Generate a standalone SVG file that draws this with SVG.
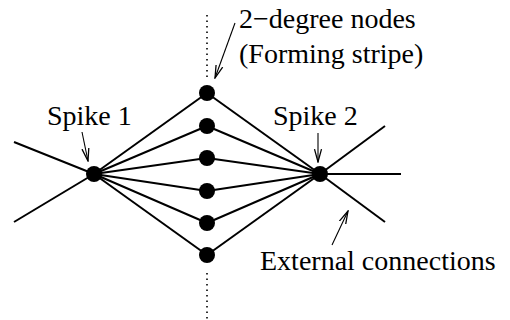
<svg xmlns="http://www.w3.org/2000/svg" width="510" height="320" viewBox="0 0 510 320">
<style>
.e{stroke:#000;stroke-width:2;fill:none}
.d{stroke:#000;stroke-width:1.6;stroke-dasharray:1.6 3.9;fill:none}
.a{stroke:#000;stroke-width:1.1;fill:none;marker-end:url(#ah)}
.n{fill:#000}
.t{font-family:'Liberation Serif','Times New Roman',serif;font-size:28px;fill:#000}
</style>
<defs>
<marker id="ah" markerUnits="userSpaceOnUse" markerWidth="14" markerHeight="10" refX="11" refY="4" orient="auto" viewBox="0 0 12 8">
<path d="M0,1 L11,4 L0,7" fill="none" stroke="#000" stroke-width="1.1"/>
</marker>
</defs>
<g id="connectors">
<line class="d" x1="207" y1="15" x2="207" y2="78"/>
<line class="d" x1="207" y1="273" x2="207" y2="320"/>
<line class="e" x1="14" y1="142" x2="94" y2="174"/>
<line class="e" x1="14" y1="222" x2="94" y2="174"/>
<line class="e" x1="385" y1="126" x2="320" y2="174"/>
<line class="e" x1="401" y1="174" x2="320" y2="174"/>
<line class="e" x1="385" y1="222" x2="320" y2="174"/>
<line class="e" x1="94" y1="174" x2="207" y2="93"/>
<line class="e" x1="94" y1="174" x2="207" y2="126"/>
<line class="e" x1="94" y1="174" x2="207" y2="158"/>
<line class="e" x1="94" y1="174" x2="207" y2="191"/>
<line class="e" x1="94" y1="174" x2="207" y2="223"/>
<line class="e" x1="94" y1="174" x2="207" y2="255"/>
<line class="e" x1="320" y1="174" x2="207" y2="93"/>
<line class="e" x1="320" y1="174" x2="207" y2="126"/>
<line class="e" x1="320" y1="174" x2="207" y2="158"/>
<line class="e" x1="320" y1="174" x2="207" y2="191"/>
<line class="e" x1="320" y1="174" x2="207" y2="223"/>
<line class="e" x1="320" y1="174" x2="207" y2="255"/>
<line class="a" x1="235" y1="23" x2="215" y2="78"/>
<line class="a" x1="82" y1="132" x2="88" y2="161"/>
<line class="a" x1="318" y1="133" x2="318" y2="162"/>
<line class="a" x1="332" y1="245" x2="348" y2="211"/>
</g>
<g id="spike1"><circle class="n" cx="94" cy="174" r="8"/><text class="t" x="47" y="125">Spike 1</text></g>
<g id="spike2"><circle class="n" cx="320" cy="174" r="8"/><text class="t" x="273" y="125">Spike 2</text></g>
<g id="m1"><circle class="n" cx="207" cy="93" r="8"/></g>
<g id="m2"><circle class="n" cx="207" cy="126" r="8"/></g>
<g id="m3"><circle class="n" cx="207" cy="158" r="8"/></g>
<g id="m4"><circle class="n" cx="207" cy="191" r="8"/></g>
<g id="m5"><circle class="n" cx="207" cy="223" r="8"/></g>
<g id="m6"><circle class="n" cx="207" cy="255" r="8"/></g>
<g id="label-stripe"><text class="t" x="239" y="28">2−degree nodes</text><text class="t" x="239" y="63">(Forming stripe)</text></g>
<g id="label-external"><text class="t" x="260" y="270">External connections</text></g>
</svg>
